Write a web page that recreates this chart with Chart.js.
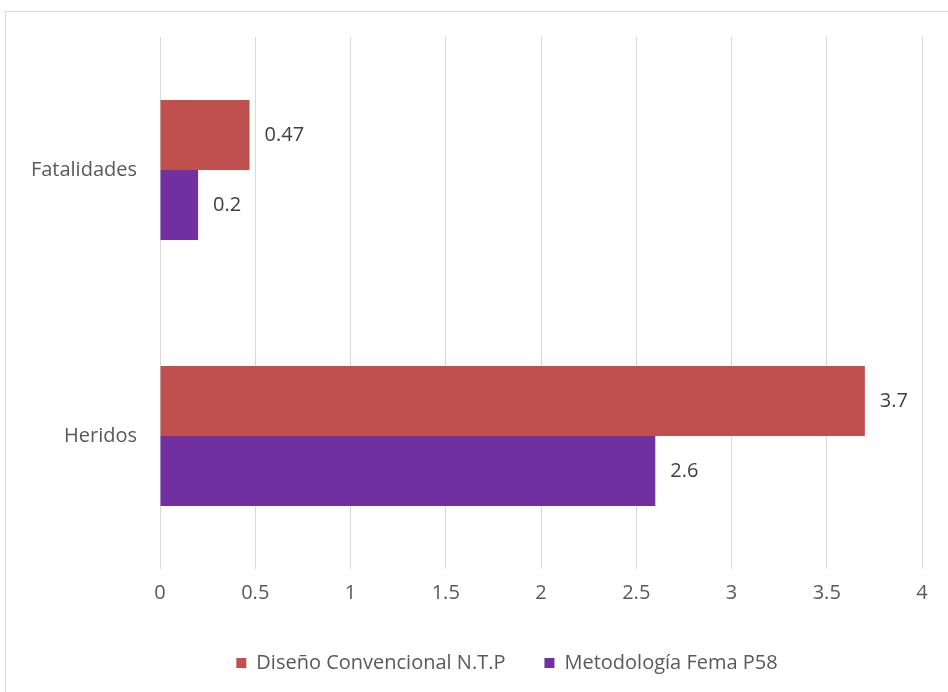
<!DOCTYPE html>
<html>
<head>
<meta charset="utf-8">
<script src="https://cdn.jsdelivr.net/npm/chart.js@4/dist/chart.umd.min.js"></script>
<style>
  html, body { margin: 0; padding: 0; background: #fff; overflow: hidden; }
  #frame { position: absolute; left: 5px; top: 11px; width: 980px; height: 720px; border: 1px solid #d9d9d9; }
  #wrap { position: absolute; left: 0; top: 0; width: 948px; height: 692px; }
</style>
</head>
<body>
<div id="frame"></div>
<div id="wrap"><canvas id="barChart"></canvas></div>
<script>
var categories = ["Fatalidades", "Heridos"];
var seriesNames = ["Diseño Convencional N.T.P", "Metodología Fema P58"];
var convencional = [0.47, 3.7];
var femaP58 = [0.2, 2.6];
var xTicks = [0, 0.5, 1, 1.5, 2, 2.5, 3, 3.5, 4];

var textColor = "#595959";

// value written just past the end of each bar
var valueLabels = {
    id: "valueLabels",
    afterDatasetsDraw: function (chart) {
        var ctx = chart.ctx;
        ctx.save();
        ctx.font = "20px 'Open Sans'";
        ctx.fillStyle = "#404040";
        ctx.textAlign = "left";
        ctx.textBaseline = "middle";
        chart.data.datasets.forEach(function (ds, i) {
            chart.getDatasetMeta(i).data.forEach(function (bar, j) {
                ctx.fillText(String(ds.data[j]), bar.x + 15, bar.y);
            });
        });
        ctx.restore();
    }
};

// legend sits a little right of the canvas centre
var legendShift = {
    id: "legendShift",
    afterLayout: function (chart) {
        var lg = chart.legend;
        lg.left += 46;
        lg.right += 46;
    }
};

var barChart = new Chart(document.getElementById("barChart"), {
    type: "bar",
    data: {
        labels: categories,
        datasets: [{
            label: seriesNames[0],
            data: convencional,
            backgroundColor: "#C0504D"
        }, {
            label: seriesNames[1],
            data: femaP58,
            backgroundColor: "#7030A0"
        }]
    },
    options: {
        indexAxis: "y",
        responsive: true,
        maintainAspectRatio: false,
        animation: false,
        layout: { padding: { top: 37, right: 26, bottom: 9, left: 0 } },
        datasets: {
            bar: { categoryPercentage: 0.526, barPercentage: 1 }
        },
        scales: {
            x: {
                min: 0,
                max: 4,
                afterBuildTicks: function (scale) {
                    scale.ticks = xTicks.map(function (v) { return { value: v }; });
                },
                grid: { color: "#d9d9d9", drawTicks: false },
                border: { display: false },
                ticks: {
                    color: textColor,
                    padding: 12,
                    font: { family: "'Open Sans'", size: 20 },
                    callback: function (v) { return String(v); }
                },
                afterFit: function (scale) { scale.height = 45; }
            },
            y: {
                grid: { display: false },
                border: { display: false },
                ticks: {
                    color: textColor,
                    padding: 15,
                    font: { family: "'Open Sans'", size: 20 }
                },
                afterFit: function (scale) { scale.width = 160; }
            }
        },
        plugins: {
            legend: {
                position: "bottom",
                labels: {
                    color: textColor,
                    boxWidth: 10,
                    boxHeight: 10,
                    padding: 39,
                    font: { family: "'Open Sans'", size: 20 }
                }
            },
            tooltip: { enabled: false }
        }
    },
    plugins: [valueLabels, legendShift]
});
</script>
</body>
</html>
